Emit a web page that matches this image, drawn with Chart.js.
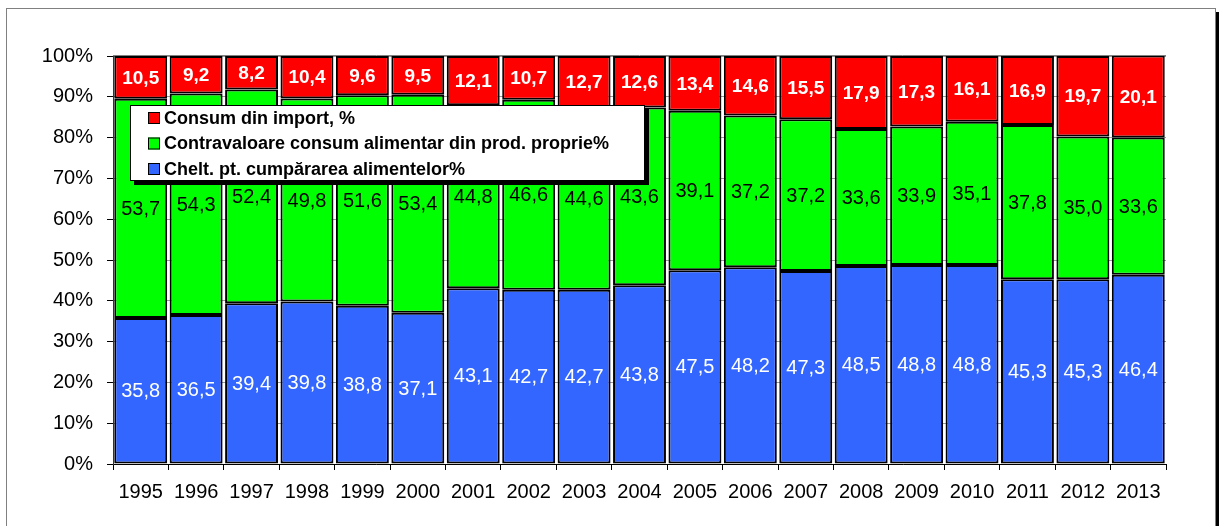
<!DOCTYPE html>
<html>
<head>
<meta charset="utf-8">
<script src="https://cdn.jsdelivr.net/npm/chart.js@4/dist/chart.umd.min.js"></script>
<style>
  body { margin: 0; background: #fff; }
  canvas { display: block; }
</style>
</head>
<body>
<canvas id="chart" width="1219" height="526"></canvas>
<script>
const years = ['1995', '1996', '1997', '1998', '1999', '2000', '2001', '2002', '2003', '2004',
               '2005', '2006', '2007', '2008', '2009', '2010', '2011', '2012', '2013'];

const purchased = [35.8, 36.5, 39.4, 39.8, 38.8, 37.1, 43.1, 42.7, 42.7, 43.8,
                   47.5, 48.2, 47.3, 48.5, 48.8, 48.8, 45.3, 45.3, 46.4];
const ownProduction = [53.7, 54.3, 52.4, 49.8, 51.6, 53.4, 44.8, 46.6, 44.6, 43.6,
                       39.1, 37.2, 37.2, 33.6, 33.9, 35.1, 37.8, 35.0, 33.6];
const imported = [10.5, 9.2, 8.2, 10.4, 9.6, 9.5, 12.1, 10.7, 12.7, 12.6,
                  13.4, 14.6, 15.5, 17.9, 17.3, 16.1, 16.9, 19.7, 20.1];

const yTicks = [0, 10, 20, 30, 40, 50, 60, 70, 80, 90, 100];

const seriesNames = ['Chelt. pt. cumpărarea alimentelor%',
                     'Contravaloare consum alimentar din prod. proprie%',
                     'Consum din import, %'];
const seriesColors = ['#3366FF', '#00FF00', '#FF0000'];
const labelColors = ['#FFFFFF', '#000000', '#FFFFFF'];
const labelFonts = ['20px', '20px', 'bold 19px'];

const font = '"Liberation Sans", Arial, sans-serif';

// outer frame with the dark shadow on the right
const framePlugin = {
    id: 'frame',
    beforeDraw(chart) {
        const ctx = chart.ctx;
        ctx.save();
        ctx.fillStyle = '#fff';
        ctx.fillRect(0, 0, chart.width, chart.height);
        ctx.strokeStyle = '#808080';
        ctx.lineWidth = 1;
        ctx.strokeRect(6.5, 8.5, 1209, 540);
        ctx.fillStyle = '#000';
        ctx.fillRect(1216, 12, 4, 540);
        ctx.restore();
    },
    beforeDatasetsDraw(chart) {
        const { ctx, chartArea } = chart;
        ctx.save();
        ctx.strokeStyle = '#808080';
        ctx.lineWidth = 1;
        ctx.beginPath();
        ctx.moveTo(chartArea.left, chartArea.top - 0.5);
        ctx.lineTo(chartArea.right, chartArea.top - 0.5);
        ctx.stroke();
        ctx.restore();
    }
};

// values written in the middle of each segment
const valueLabels = {
    id: 'valueLabels',
    afterDatasetsDraw(chart) {
        const ctx = chart.ctx;
        ctx.save();
        ctx.textAlign = 'center';
        ctx.textBaseline = 'middle';
        chart.data.datasets.forEach((ds, i) => {
            const meta = chart.getDatasetMeta(i);
            ctx.fillStyle = labelColors[i];
            ctx.font = labelFonts[i] + ' ' + font;
            meta.data.forEach((bar, j) => {
                const y = (bar.y + bar.base) / 2 + 1;
                ctx.fillText(ds.data[j].toFixed(1).replace('.', ','), bar.x, y);
            });
        });
        ctx.restore();
    }
};

// legend box laid over the bars, top-left
const boxLegend = {
    id: 'boxLegend',
    afterDraw(chart) {
        const ctx = chart.ctx;
        const left = 130, top = 105, w = 515, h = 76;
        ctx.save();
        ctx.fillStyle = '#000';
        ctx.fillRect(left + 4, top + 4, w, h);
        ctx.fillStyle = '#fff';
        ctx.fillRect(left, top, w, h);
        ctx.strokeStyle = '#000';
        ctx.lineWidth = 1;
        ctx.strokeRect(left + 0.5, top + 0.5, w - 1, h - 1);

        ctx.font = 'bold 18px ' + font;
        ctx.textBaseline = 'middle';
        const rows = [2, 1, 0];
        rows.forEach((idx, r) => {
            const cy = top + 13 + r * 25.5;
            ctx.fillStyle = seriesColors[idx];
            ctx.fillRect(148, cy - 6, 12, 12);
            ctx.strokeStyle = '#000';
            ctx.strokeRect(148.5, cy - 5.5, 11, 11);
            ctx.fillStyle = '#000';
            ctx.fillText(chart.data.datasets[idx].label, 164, cy + 1);
        });
        ctx.restore();
    }
};

const datasets = [purchased, ownProduction, imported].map((values, i) => ({
    label: seriesNames[i],
    data: values,
    backgroundColor: seriesColors[i],
    borderColor: '#000',
    borderWidth: 2,
    borderSkipped: false,
    barPercentage: 0.955,
    categoryPercentage: 1
}));

new Chart(document.getElementById('chart'), {
    type: 'bar',
    data: { labels: years, datasets: datasets },
    options: {
        responsive: false,
        devicePixelRatio: 1,
        animation: false,
        layout: { padding: { top: 56, right: 53, left: 0, bottom: 0 } },
        plugins: {
            legend: { display: false },
            tooltip: { enabled: false }
        },
        scales: {
            x: {
                stacked: true,
                afterFit: s => { s.height = 62; },
                grid: { drawOnChartArea: false, tickLength: 6, tickColor: '#000' },
                border: { color: '#000', width: 1 },
                ticks: { color: '#000', padding: 10, font: { family: font, size: 20 } }
            },
            y: {
                stacked: true,
                min: 0,
                max: 100,
                afterFit: s => { s.width = 113; },
                afterBuildTicks: s => { s.ticks = yTicks.map(v => ({ value: v })); },
                grid: { color: '#9a9a9a', tickLength: 6, tickColor: '#000' },
                border: { color: '#333', width: 1 },
                ticks: {
                    color: '#000',
                    padding: 14,
                    font: { family: font, size: 20 },
                    callback: v => v + '%'
                }
            }
        }
    },
    plugins: [framePlugin, valueLabels, boxLegend]
});
</script>
</body>
</html>
